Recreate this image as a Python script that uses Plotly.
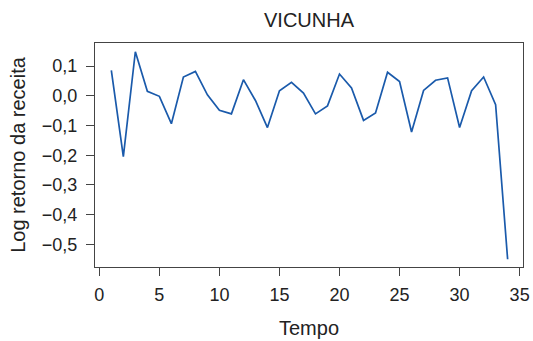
import plotly.graph_objects as go

tempo = list(range(1, 35))
log_retorno = [0.085, -0.205, 0.148, 0.015, -0.002, -0.094, 0.063, 0.082, 0.003, -0.049,
               -0.061, 0.054, -0.016, -0.107, 0.017, 0.045, 0.009, -0.061, -0.034, 0.073,
               0.026, -0.083, -0.058, 0.079, 0.048, -0.122, 0.018, 0.052, 0.060, -0.107,
               0.017, 0.063, -0.030, -0.550]
x_ticks = [0, 5, 10, 15, 20, 25, 30, 35]
y_ticks = [0.1, 0.0, -0.1, -0.2, -0.3, -0.4, -0.5]

fig = go.Figure(go.Scatter(x=tempo, y=log_retorno, mode="lines",
                           line=dict(color="#1a5aab", width=1.7)))

font = "Liberation Sans, Arial, sans-serif"
fig.update_layout(
    width=533, height=341,
    margin=dict(l=95, r=10, t=43, b=74),
    paper_bgcolor="white", plot_bgcolor="white",
    separators=",.",
    showlegend=False,
    font=dict(family=font, color="#222", size=18),
    title=dict(text="VICUNHA", x=0.5, xref="paper", xanchor="center",
               y=1 - 20 / 341, yref="container", yanchor="middle",
               font=dict(size=20, family=font, color="#222")),
)
fig.update_xaxes(range=[-0.36, 35.28], tickvals=x_ticks, ticks="outside", ticklen=8,
                 tickcolor="#444", tickwidth=1, showline=True, linecolor="#444",
                 linewidth=1, mirror=True, showgrid=False, zeroline=False,
                 tickfont=dict(size=18), ticklabelstandoff=3, automargin=False,
                 title=dict(text="Tempo", font=dict(size=20), standoff=17))
fig.update_yaxes(range=[-0.576, 0.1774], tickvals=y_ticks, tickformat=".1f",
                 ticks="outside", ticklen=8, tickcolor="#444", tickwidth=1,
                 showline=True, linecolor="#444", linewidth=1, mirror=True,
                 showgrid=False, zeroline=False, tickfont=dict(size=18),
                 ticklabelstandoff=5, automargin=False,
                 title=dict(text="Log retorno da receita", font=dict(size=20), standoff=10))

fig.write_html("out.html")
